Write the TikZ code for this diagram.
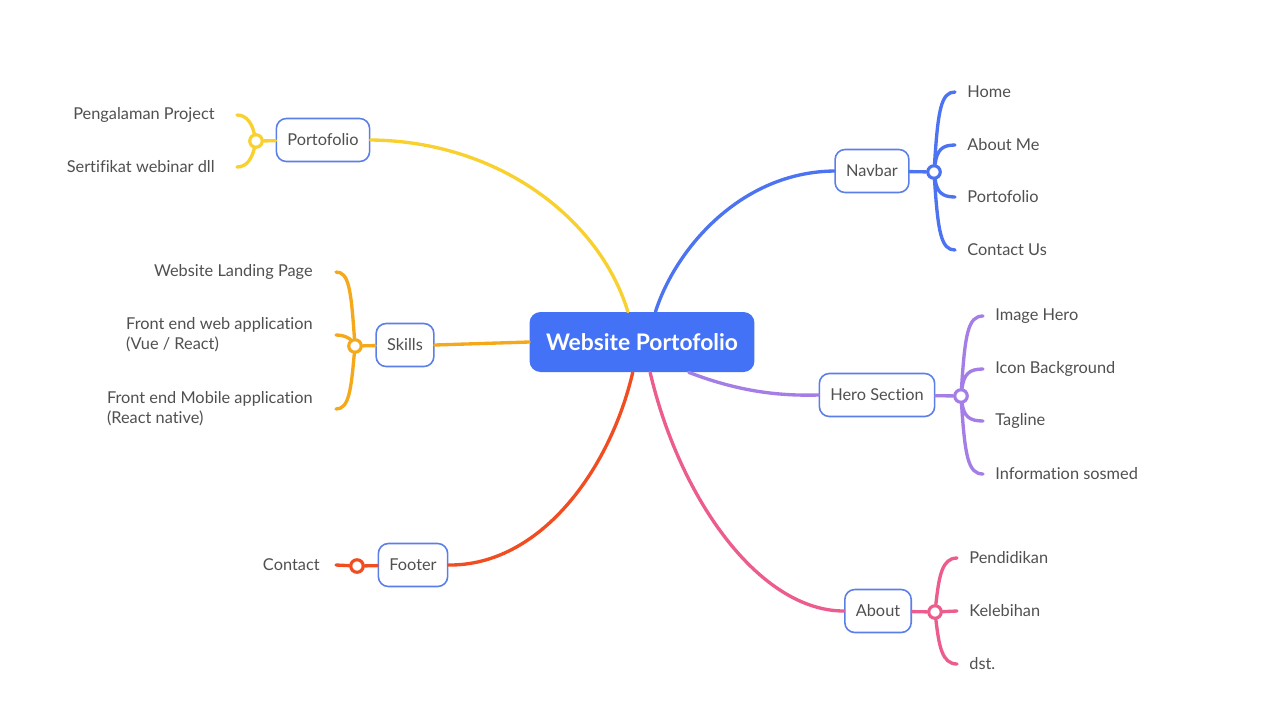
\documentclass[tikz,border=0pt]{standalone}
\usepackage{fontspec}
\setmainfont{Lato}[Ligatures=NoCommon]
\usetikzlibrary{positioning}
\definecolor{rootblue}{HTML}{4472F6}
\definecolor{boxblue}{HTML}{5B7FE8}
\definecolor{txtgray}{HTML}{505050}
\definecolor{navblue}{HTML}{4C74F0}
\definecolor{heropurple}{HTML}{A47EE6}
\definecolor{aboutpink}{HTML}{EC5C8E}
\definecolor{portyellow}{HTML}{F8D12F}
\definecolor{skillorange}{HTML}{F5A91A}
\definecolor{footred}{HTML}{F04E22}
\begin{document}
\begin{tikzpicture}[
    x=0.02cm, y=-0.02cm,
    every node/.style={text=txtgray, font=\fontsize{9.3}{11.4}\selectfont},
    root/.style={fill=rootblue, text=white, rounded corners=0.22cm, minimum width=4.5cm,
        minimum height=1.2cm, font=\fontsize{13}{15}\selectfont\bfseries},
    topic/.style={draw=boxblue, fill=white, line width=0.9pt, rounded corners=0.2cm,
        minimum height=0.86cm, inner xsep=0.22cm},
    leaf/.style={anchor=west, inner xsep=0.24cm, inner ysep=0pt},
    leafleft/.style={anchor=east, align=left, inner xsep=0.46cm, inner ysep=0pt},
    knot/.style={circle, draw, fill=white, line width=1.8pt, minimum size=0.25cm, inner sep=0pt},
    branch/.style={line width=1.9pt, line cap=round}
]
    \useasboundingbox[fill=white] (0,0) rectangle (1280,718);

    % Main topic and the six subtopics
    \node[root] (root) at (642,342) {Website Portofolio};
    \node[topic] (navbar) at (872,171) {Navbar};
    \node[topic] (hero) at (877,395) {Hero Section};
    \node[topic] (about) at (878,611) {About};
    \node[topic] (porto) at (323,140) {Portofolio};
    \node[topic] (skills) at (405,345) {Skills};
    \node[topic] (footer) at (413,565) {Footer};

    % Curves from the main topic
    \draw[branch, navblue] (root.66) .. controls (675,250) and (740,172) .. (navbar.west);
    \draw[branch, portyellow] (root.115) .. controls (600,220) and (500,141) .. (porto.east);
    \draw[branch, skillorange] (root.west) -- (skills.east);
    \draw[branch, footred] (root.253) .. controls (610,470) and (540,566) .. (footer.east);
    \draw[branch, aboutpink] (root.285) .. controls (680,500) and (760,611) .. (about.west);
    \draw[branch, heropurple] (root.327) .. controls (740,392) and (780,396) .. (hero.west);

    % Navbar
    \node[knot, draw=navblue] (kNav) at (934,172) {};
    \draw[branch, navblue] (navbar) -- (kNav);
    \node[leaf] (home) at (955,92) {Home};
    \node[leaf] (aboutme) at (955,145) {About Me};
    \node[leaf] (navporto) at (955,197) {Portofolio};
    \node[leaf] (contactus) at (955,250) {Contact Us};
    \draw[branch, navblue] (kNav) .. controls (938,110) and (941,92) .. (home.west);
    \draw[branch, navblue] (kNav) .. controls (937,150) and (942,145) .. (aboutme.west);
    \draw[branch, navblue] (kNav) .. controls (937,192) and (942,197) .. (navporto.west);
    \draw[branch, navblue] (kNav) .. controls (938,232) and (941,250) .. (contactus.west);

    % Hero Section
    \node[knot, draw=heropurple] (kHero) at (961,396) {};
    \draw[branch, heropurple] (hero) -- (kHero);
    \node[leaf] (imghero) at (983,316) {Image Hero};
    \node[leaf] (iconbg) at (983,369) {Icon Background};
    \node[leaf] (tagline) at (983,421) {Tagline};
    \node[leaf] (sosmed) at (983,474) {Information sosmed};
    \draw[branch, heropurple] (kHero) .. controls (965,334) and (968,316) .. (imghero.west);
    \draw[branch, heropurple] (kHero) .. controls (964,374) and (969,369) .. (iconbg.west);
    \draw[branch, heropurple] (kHero) .. controls (964,416) and (969,421) .. (tagline.west);
    \draw[branch, heropurple] (kHero) .. controls (965,456) and (968,474) .. (sosmed.west);

    % About
    \node[knot, draw=aboutpink] (kAbout) at (935,612) {};
    \draw[branch, aboutpink] (about) -- (kAbout);
    \node[leaf] (pendidikan) at (957,558) {Pendidikan};
    \node[leaf] (kelebihan) at (957,611) {Kelebihan};
    \node[leaf] (dst) at (957,664) {dst.};
    \draw[branch, aboutpink] (kAbout) .. controls (939,576) and (942,558) .. (pendidikan.west);
    \draw[branch, aboutpink] (kAbout) -- (kelebihan.west);
    \draw[branch, aboutpink] (kAbout) .. controls (939,646) and (942,664) .. (dst.west);

    % Portofolio
    \node[knot, draw=portyellow] (kPorto) at (256,141) {};
    \draw[branch, portyellow] (porto) -- (kPorto);
    \node[leafleft, inner xsep=0.44cm] (project) at (237,115) {Pengalaman Project};
    \node[leafleft, inner xsep=0.44cm] (sertifikat) at (237,167) {Sertifikat webinar dll};
    \draw[branch, portyellow] (kPorto) .. controls (252,124) and (247,115) .. (project.east);
    \draw[branch, portyellow] (kPorto) .. controls (252,158) and (247,167) .. (sertifikat.east);

    % Skills
    \node[knot, draw=skillorange] (kSkills) at (355,346) {};
    \draw[branch, skillorange] (skills) -- (kSkills);
    \node[leafleft] (landing) at (336,272) {Website Landing Page};
    \node[leafleft] (webapp) at (336,335) {Front end web application\\(Vue / React)};
    \node[leafleft] (mobile) at (336,409) {Front end Mobile application\\(React native)};
    \draw[branch, skillorange] (kSkills) .. controls (351,290) and (349,272) .. (landing.east);
    \draw[branch, skillorange] (kSkills) .. controls (351,340) and (346,335) .. (webapp.east);
    \draw[branch, skillorange] (kSkills) .. controls (351,390) and (349,409) .. (mobile.east);

    % Footer
    \node[knot, draw=footred] (kFooter) at (357,566) {};
    \draw[branch, footred] (footer) -- (kFooter);
    \node[leafleft, inner xsep=0.32cm] (contact) at (336,565) {Contact};
    \draw[branch, footred] (kFooter) -- (contact.east);
\end{tikzpicture}
\end{document}
